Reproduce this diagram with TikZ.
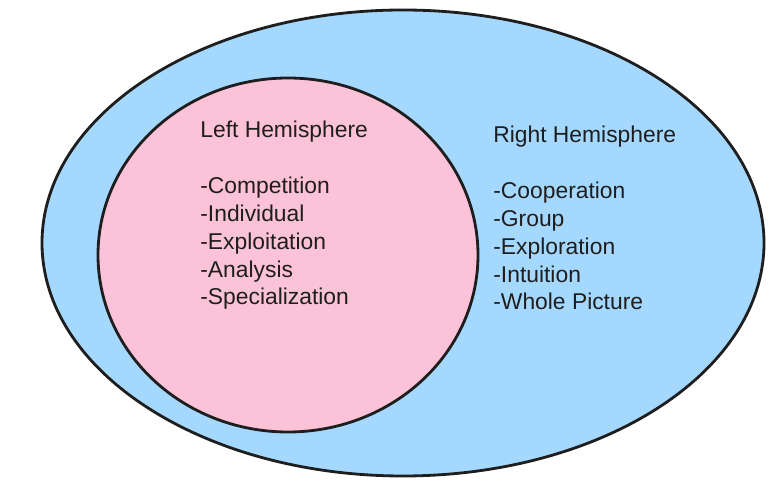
\documentclass[tikz,border=0pt]{standalone}
\usepackage{fontspec}
\setmainfont{Liberation Sans}
\usetikzlibrary{positioning}
\definecolor{celeste}{HTML}{A5D8FF}
\definecolor{rosa}{HTML}{FCC2D7}
\definecolor{inchiostro}{HTML}{1E1E1E}

\begin{document}
\begin{tikzpicture}[
  x=0.02cm, y=-0.02cm,
  font=\fontsize{13}{15.9}\selectfont,
  contorno/.style={draw=inchiostro, line width=1.6pt, line join=round},
  elenco/.style={anchor=base west, align=left, inner sep=0pt, text=inchiostro}
]
\useasboundingbox (0,0) rectangle (774,492);

% emisferi
\draw[contorno, fill=celeste] (403,243) ellipse [x radius=361, y radius=233];
\draw[contorno, fill=rosa] (288,255) ellipse [x radius=190, y radius=177];

% testi (base = ultima riga)
\node[elenco] (sinistro) at (200,305) {Left Hemisphere\\[15.9pt]-Competition\\-Individual\\-Exploitation\\-Analysis\\-Specialization};
\node[elenco] (destro) at (493,310) {Right Hemisphere\\[15.9pt]-Cooperation\\-Group\\-Exploration\\-Intuition\\-Whole Picture};

\end{tikzpicture}
\end{document}
